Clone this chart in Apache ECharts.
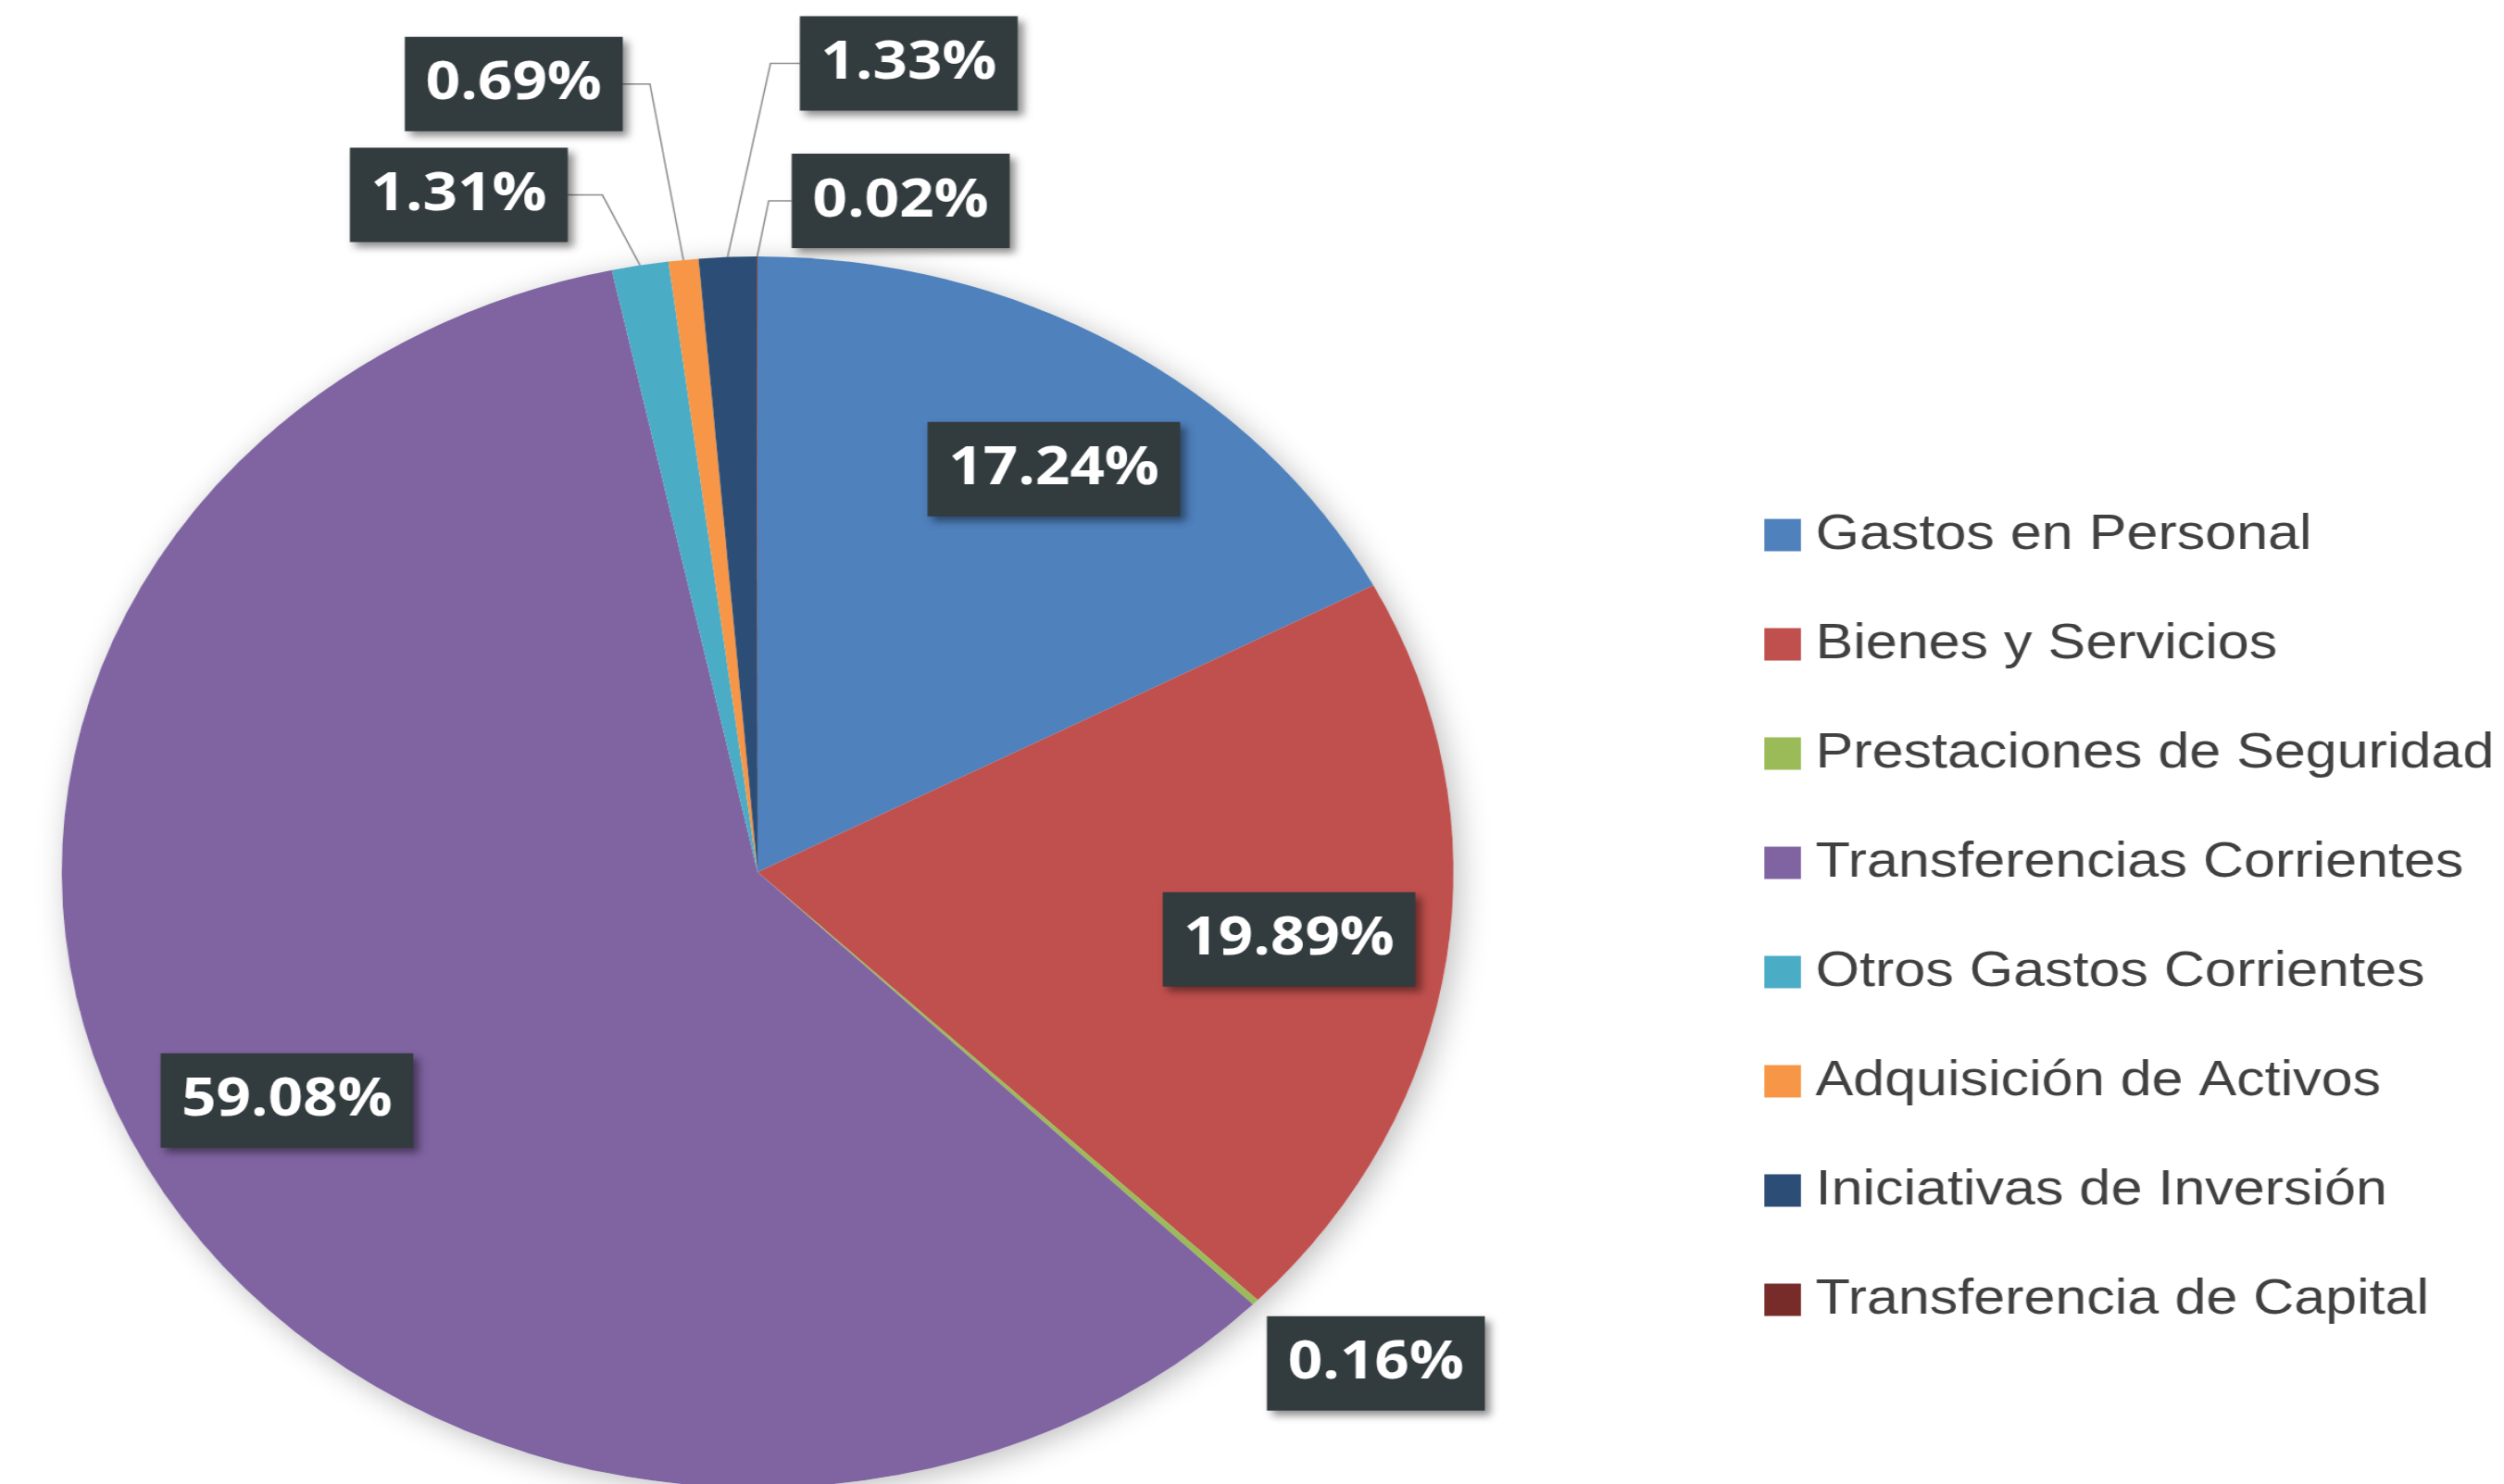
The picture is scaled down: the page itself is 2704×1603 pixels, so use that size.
<!DOCTYPE html>
<html>
<head>
<meta charset="utf-8">
<title>Distribución del gasto</title>
<script src="https://cdn.jsdelivr.net/npm/echarts@6/dist/echarts.min.js"></script>
<style>
  html, body { margin: 0; padding: 0; background: #fff; overflow: hidden; }
  /* the source picture is stretched sideways, so draw narrow and widen it */
  #chart { width: 2393px; height: 1603px; transform: scaleX(1.13); transform-origin: 0 0; }
</style>
</head>
<body>
<div id="chart"></div>
<script>
const categories = [
  'Gastos en Personal',
  'Bienes y Servicios',
  'Prestaciones de Seguridad',
  'Transferencias Corrientes',
  'Otros Gastos Corrientes',
  'Adquisición de Activos',
  'Iniciativas de Inversión',
  'Transferencia de Capital'
]
const shares = [17.24, 19.89, 0.16, 59.08, 1.31, 0.69, 1.33, 0.02]
const colors = ['#4f81bd', '#c0504d', '#9bbb59', '#8064a2', '#4bacc6', '#f79646', '#2c4d75', '#772c2a']

// slices whose label sits inside the pie
const insideLabels = [0, 1, 3]
// small manual nudges of inside labels: [dx, dy]
const insideLabelNudge = { 0: [18, 4] }
// outer labels, relative to the slice anchor: [box edge dx, box middle dy, elbow dx]
const outerLabelOffsets = {
  2: [11, 66, null],
  4: [-69, -76, -36],
  5: [-58, -190, -32],
  6: [69, -209, 41],
  7: [33, -60, 11]
}

const center = [724, 942]
const radius = 665

const boxLabel = {
  color: '#fff',
  fontFamily: 'Open Sans',
  fontWeight: 'bold',
  fontSize: 58,
  lineHeight: 60,
  backgroundColor: '#323b3e',
  padding: [21, 20],
  shadowColor: 'rgba(0,0,0,0.45)',
  shadowBlur: 8,
  shadowOffsetX: 5,
  shadowOffsetY: 5,
  formatter: p => p.value.toFixed(2) + '%'
}

const chart = echarts.init(document.getElementById('chart'))

chart.setOption({
  animation: false,
  backgroundColor: '#fff',
  legend: {
    orient: 'vertical',
    left: 1686,
    top: 548,
    padding: 0,
    data: categories,
    icon: 'rect',
    itemWidth: 35,
    itemHeight: 35,
    itemGap: 58,
    selectedMode: false,
    itemStyle: { borderWidth: 0 },
    formatter: name => '{gap|}' + name,
    textStyle: {
      fontFamily: 'Liberation Sans',
      fontSize: 54,
      lineHeight: 60,
      color: '#404040',
      rich: { gap: { width: 9 } }
    }
  },
  series: [
    {
      // soft shadow under the whole pie
      type: 'pie',
      center: center,
      radius: radius,
      silent: true,
      z: 1,
      label: { show: false },
      labelLine: { show: false },
      itemStyle: {
        color: '#fff',
        borderWidth: 0,
        shadowBlur: 30,
        shadowColor: 'rgba(0,0,0,0.25)',
        shadowOffsetX: 6,
        shadowOffsetY: 6
      },
      data: [{ name: 'sombra', value: 1 }]
    },
    {
      type: 'pie',
      center: center,
      radius: radius,
      startAngle: 90,
      z: 2,
      avoidLabelOverlap: false,
      itemStyle: { borderWidth: 0 },
      label: Object.assign({}, boxLabel, { position: 'outside' }),
      labelLine: { show: true, smooth: false, lineStyle: { color: '#8c8c8c', width: 1.5 } },
      labelLayout: params => {
        const off = outerLabelOffsets[params.dataIndex]
        const pts = params.labelLinePoints
        if (!off || !pts) return {}
        const ax = pts[0][0]
        const ay = pts[0][1]
        const edgeX = ax + off[0]
        const y = ay + off[1]
        const line = off[2] === null
          ? [[ax, ay], [ax, ay], [ax, ay]]
          : [[ax, ay], [ax + off[2], y], [edgeX, y]]
        return {
          x: edgeX,
          y: y,
          align: off[0] < 0 ? 'right' : 'left',
          verticalAlign: 'middle',
          labelLinePoints: line
        }
      },
      data: categories.map((name, i) => ({
        name: name,
        value: shares[i],
        itemStyle: { color: colors[i] },
        label: { show: !insideLabels.includes(i) },
        labelLine: { show: !insideLabels.includes(i) }
      }))
    },
    {
      // transparent copy that only carries the inside labels
      type: 'pie',
      center: center,
      radius: [355, radius],
      startAngle: 90,
      z: 3,
      silent: true,
      avoidLabelOverlap: false,
      itemStyle: { color: 'rgba(0,0,0,0)', borderWidth: 0 },
      label: Object.assign({}, boxLabel, { position: 'inside' }),
      labelLine: { show: false },
      labelLayout: params => {
        const n = insideLabelNudge[params.dataIndex]
        return n ? { dx: n[0], dy: n[1] } : {}
      },
      data: categories.map((name, i) => ({
        name: name,
        value: shares[i],
        label: { show: insideLabels.includes(i) }
      }))
    }
  ]
})
</script>
</body>
</html>
